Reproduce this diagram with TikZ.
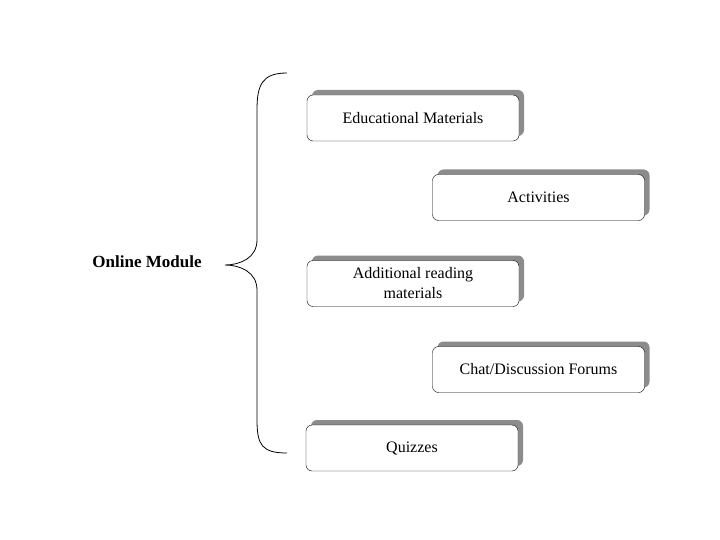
\documentclass[tikz,border=0pt]{standalone}
\usepackage{fontspec}
\setmainfont{Liberation Serif}
\usetikzlibrary{shadows}
\begin{document}
\begin{tikzpicture}[x=1pt,y=-1pt,
  mbox/.style={draw=black,fill=white,rounded corners=6pt,minimum width=212pt,minimum height=46pt,align=center,font=\fontsize{16}{20}\selectfont,
    general shadow={fill=gray!90,shadow xshift=5pt,shadow yshift=5pt}}]
\useasboundingbox (0,0) rectangle (720,540);
\node[mbox] (m1) at (413,118) {Educational Materials};
\node[mbox] (m2) at (538.5,197.5) {Activities};
\node[mbox] (m3) at (413,283.5) {Additional reading\\materials};
\node[mbox] (m4) at (538.5,369.5) {Chat/Discussion Forums};
\node[mbox] (m5) at (412,448) {Quizzes};
\node[font=\bfseries\fontsize{17}{20}\selectfont] (om) at (147,262) {Online Module};
\coordinate (bt) at (287,73);
\coordinate (bb) at (287,453);
\coordinate (tip) at (225,265);
\draw[line width=0.8pt] (bt) .. controls (262,73) and (257,85) .. (257,110) -- (257,240)
  .. controls (257,258) and (240,265) .. (tip)
  .. controls (240,265) and (257,272) .. (257,290) -- (257,420)
  .. controls (257,445) and (262,453) .. (bb);
\end{tikzpicture}
\end{document}
